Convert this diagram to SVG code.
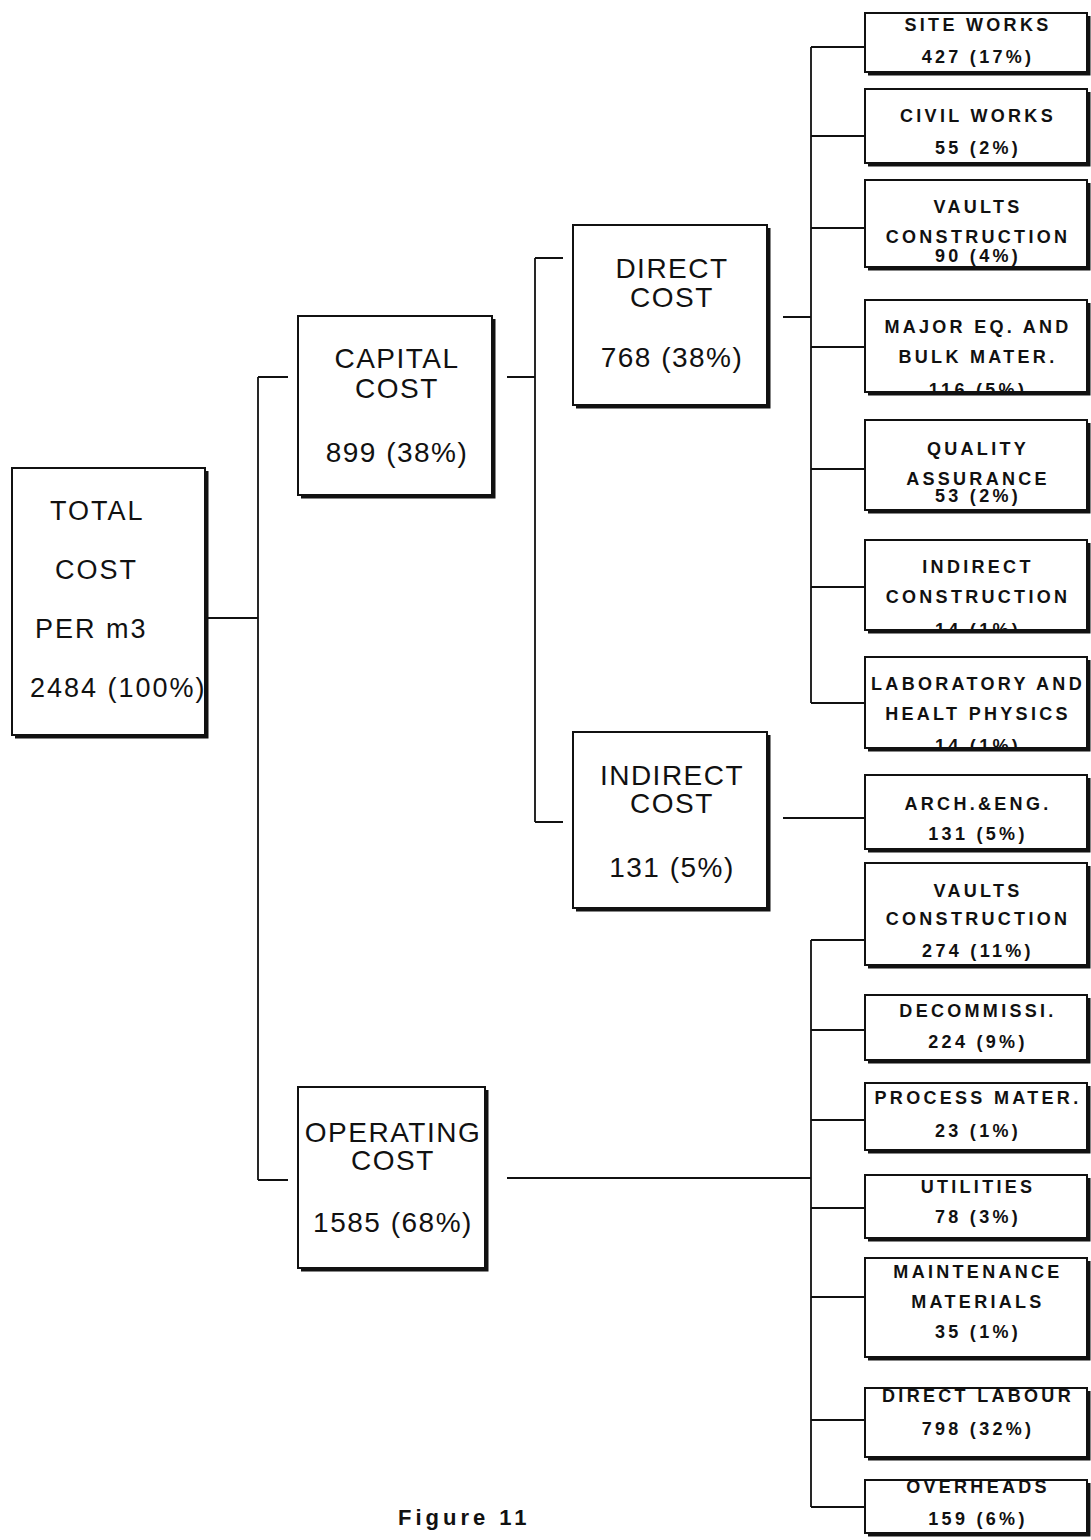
<svg xmlns="http://www.w3.org/2000/svg" width="1091" height="1540" viewBox="0 0 1091 1540">
<style>
.box{fill:#fff;stroke:#111;stroke-width:2}
.sh{fill:none;stroke:#111;stroke-width:3}
.ln{fill:none;stroke:#111;stroke-width:1.8}
.big{font-family:"Liberation Sans",Arial,sans-serif;font-size:28px;letter-spacing:1.5px;text-anchor:middle;fill:#111}
.tot{font-family:"Liberation Sans",Arial,sans-serif;font-size:27px;letter-spacing:2px;fill:#111}
.sm{font-family:"Liberation Sans",Arial,sans-serif;font-size:18px;font-weight:bold;letter-spacing:3.3px;text-anchor:middle;fill:#111}
.fig{font-family:"Liberation Sans",Arial,sans-serif;font-size:22px;font-weight:bold;letter-spacing:4px;fill:#111}
</style>
<defs>
<clipPath id="c4"><rect x="866" y="301" width="220" height="90"/></clipPath>
<clipPath id="c6"><rect x="866" y="541" width="220" height="88"/></clipPath>
<clipPath id="c7"><rect x="866" y="658" width="220" height="89"/></clipPath>
<clipPath id="c14"><rect x="866" y="1389" width="220" height="67"/></clipPath>
<clipPath id="c15"><rect x="866" y="1481" width="220" height="51"/></clipPath>
</defs>

<g id="connectors">
<path class="ln" d="M205,618 H258 M258,377 V1180 M258,377 H288 M258,1180 H288"/>
<path class="ln" d="M507,377 H535 M535,258 V822 M535,258 H563 M535,822 H563"/>
<path class="ln" d="M783,317 H811 M811,47 V703 M811,47 H865 M811,136 H865 M811,228 H865 M811,347 H865 M811,469 H865 M811,587 H865 M811,703 H865"/>
<path class="ln" d="M783,818 H865"/>
<path class="ln" d="M507,1178 H811 M811,940 V1507 M811,940 H865 M811,1030 H865 M811,1120 H865 M811,1208 H865 M811,1297 H865 M811,1420 H865 M811,1507 H865"/>
</g>

<g id="total">
<path class="sh" d="M15,737 H207 V471"/>
<rect class="box" x="12" y="468" width="193" height="267"/>
<text class="tot" x="50" y="520">TOTAL</text>
<text class="tot" x="55" y="579">COST</text>
<text class="tot" x="35" y="638">PER m3</text>
<text class="tot" x="30" y="697">2484 (100%)</text>
</g>

<g id="capital">
<path class="sh" d="M301,497 H494 V319"/>
<rect class="box" x="298" y="316" width="194" height="179"/>
<text class="big" x="397" y="368">CAPITAL</text>
<text class="big" x="397" y="398">COST</text>
<text class="big" x="397" y="462">899 (38%)</text>
</g>

<g id="direct">
<path class="sh" d="M576,407 H769 V228"/>
<rect class="box" x="573" y="225" width="194" height="180"/>
<text class="big" x="672" y="278">DIRECT</text>
<text class="big" x="672" y="307">COST</text>
<text class="big" x="672" y="367">768 (38%)</text>
</g>

<g id="indirect">
<path class="sh" d="M576,910 H769 V735"/>
<rect class="box" x="573" y="732" width="194" height="176"/>
<text class="big" x="672" y="785">INDIRECT</text>
<text class="big" x="672" y="813">COST</text>
<text class="big" x="672" y="877">131 (5%)</text>
</g>

<g id="operating">
<path class="sh" d="M301,1270 H487 V1090"/>
<rect class="box" x="298" y="1087" width="187" height="181"/>
<text class="big" x="393" y="1142">OPERATING</text>
<text class="big" x="393" y="1170">COST</text>
<text class="big" x="393" y="1232">1585 (68%)</text>
</g>

<g id="site-works">
<path class="sh" d="M868,74 H1089 V16"/>
<rect class="box" x="865" y="13" width="222" height="59"/>
<text class="sm" x="978" y="31">SITE WORKS</text>
<text class="sm" x="978" y="63">427 (17%)</text>
</g>

<g id="civil-works">
<path class="sh" d="M868,165 H1089 V92"/>
<rect class="box" x="865" y="89" width="222" height="74"/>
<text class="sm" x="978" y="122">CIVIL WORKS</text>
<text class="sm" x="978" y="154">55 (2%)</text>
</g>

<g id="vaults-construction">
<path class="sh" d="M868,269 H1089 V183"/>
<rect class="box" x="865" y="180" width="222" height="87"/>
<text class="sm" x="978" y="213">VAULTS</text>
<text class="sm" x="978" y="243">CONSTRUCTION</text>
<text class="sm" x="978" y="262">90 (4%)</text>
</g>

<g id="major-eq">
<path class="sh" d="M868,394 H1089 V303"/>
<rect class="box" x="865" y="300" width="222" height="92"/>
<text class="sm" x="978" y="333">MAJOR EQ. AND</text>
<text class="sm" x="978" y="363">BULK MATER.</text>
<text class="sm" x="978" y="396" clip-path="url(#c4)">116 (5%)</text>
</g>

<g id="quality">
<path class="sh" d="M868,512 H1089 V423"/>
<rect class="box" x="865" y="420" width="222" height="90"/>
<text class="sm" x="978" y="455">QUALITY</text>
<text class="sm" x="978" y="485">ASSURANCE</text>
<text class="sm" x="978" y="502">53 (2%)</text>
</g>

<g id="indirect-construction">
<path class="sh" d="M868,632 H1089 V543"/>
<rect class="box" x="865" y="540" width="222" height="90"/>
<text class="sm" x="978" y="573">INDIRECT</text>
<text class="sm" x="978" y="603">CONSTRUCTION</text>
<text class="sm" x="978" y="636" clip-path="url(#c6)">14 (1%)</text>
</g>

<g id="laboratory">
<path class="sh" d="M868,750 H1089 V660"/>
<rect class="box" x="865" y="657" width="222" height="91"/>
<text class="sm" x="978" y="690">LABORATORY AND</text>
<text class="sm" x="978" y="720">HEALT PHYSICS</text>
<text class="sm" x="978" y="752" clip-path="url(#c7)">14 (1%)</text>
</g>

<g id="arch-eng">
<path class="sh" d="M868,851 H1089 V778"/>
<rect class="box" x="865" y="775" width="222" height="74"/>
<text class="sm" x="978" y="810">ARCH.&amp;ENG.</text>
<text class="sm" x="978" y="840">131 (5%)</text>
</g>

<g id="vaults-construction-op">
<path class="sh" d="M868,967 H1089 V866"/>
<rect class="box" x="865" y="863" width="222" height="102"/>
<text class="sm" x="978" y="897">VAULTS</text>
<text class="sm" x="978" y="925">CONSTRUCTION</text>
<text class="sm" x="978" y="957">274 (11%)</text>
</g>

<g id="decommissi">
<path class="sh" d="M868,1062 H1089 V998"/>
<rect class="box" x="865" y="995" width="222" height="65"/>
<text class="sm" x="978" y="1017">DECOMMISSI.</text>
<text class="sm" x="978" y="1048">224 (9%)</text>
</g>

<g id="process-mater">
<path class="sh" d="M868,1152 H1089 V1086"/>
<rect class="box" x="865" y="1083" width="222" height="67"/>
<text class="sm" x="978" y="1104">PROCESS MATER.</text>
<text class="sm" x="978" y="1137">23 (1%)</text>
</g>

<g id="utilities">
<path class="sh" d="M868,1240 H1089 V1178"/>
<rect class="box" x="865" y="1175" width="222" height="63"/>
<text class="sm" x="978" y="1193">UTILITIES</text>
<text class="sm" x="978" y="1223">78 (3%)</text>
</g>

<g id="maintenance">
<path class="sh" d="M868,1359 H1089 V1261"/>
<rect class="box" x="865" y="1258" width="222" height="99"/>
<text class="sm" x="978" y="1278">MAINTENANCE</text>
<text class="sm" x="978" y="1308">MATERIALS</text>
<text class="sm" x="978" y="1338">35 (1%)</text>
</g>

<g id="direct-labour">
<path class="sh" d="M868,1459 H1089 V1391"/>
<rect class="box" x="865" y="1388" width="222" height="69"/>
<text class="sm" x="978" y="1402" clip-path="url(#c14)">DIRECT LABOUR</text>
<text class="sm" x="978" y="1435">798 (32%)</text>
</g>

<g id="overheads">
<path class="sh" d="M868,1535 H1089 V1483"/>
<rect class="box" x="865" y="1480" width="222" height="53"/>
<text class="sm" x="978" y="1493" clip-path="url(#c15)">OVERHEADS</text>
<text class="sm" x="978" y="1525">159 (6%)</text>
</g>

<text class="fig" x="398" y="1525">Figure 11</text>
</svg>
